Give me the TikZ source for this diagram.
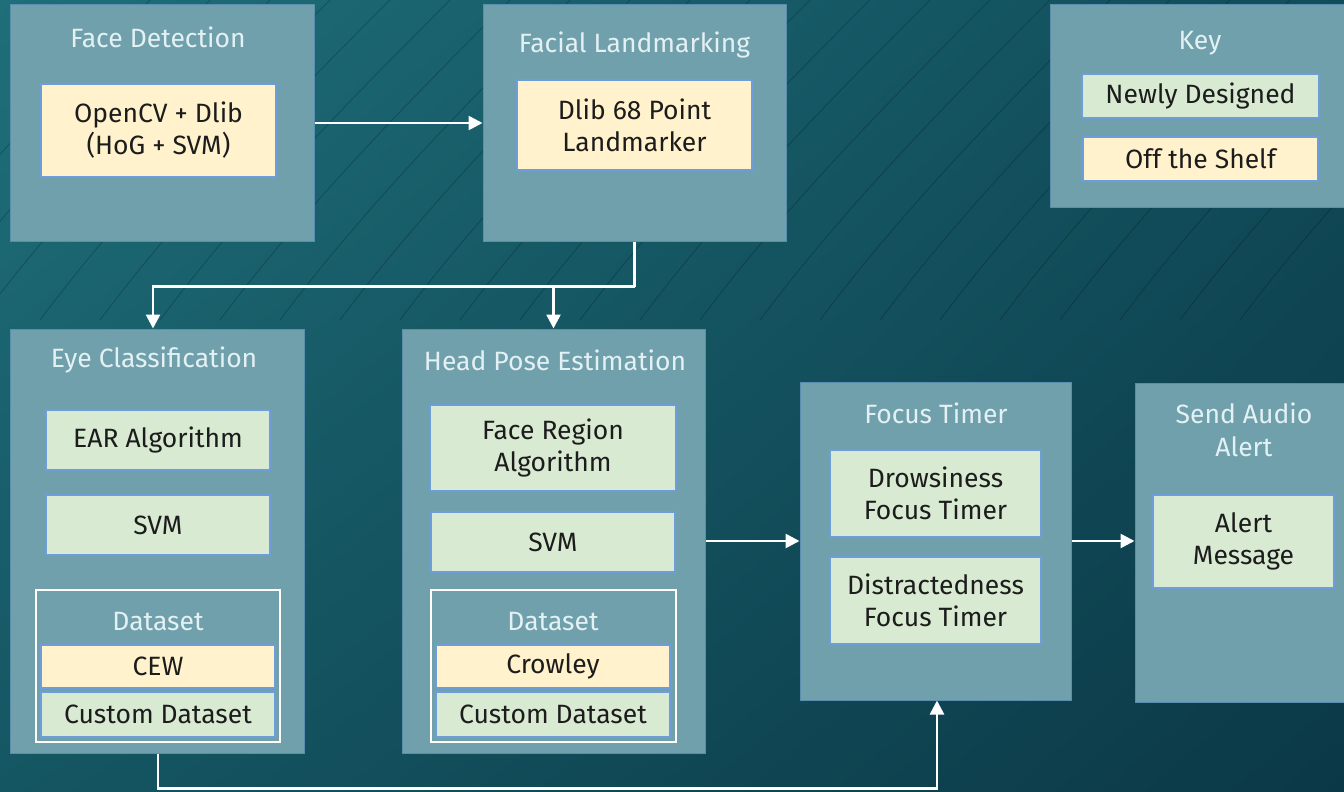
\documentclass[tikz,border=0pt]{standalone}
\usepackage{fontspec}
\setmainfont{Fira Sans}
\usetikzlibrary{arrows.meta,shadings}
\definecolor{outerfill}{HTML}{70A0AB}
\definecolor{outerdraw}{HTML}{5A8DAE}
\definecolor{newfill}{HTML}{D9EAD3}
\definecolor{offfill}{HTML}{FFF2CC}
\definecolor{innerdraw}{HTML}{6D9EDB}
\definecolor{titletext}{HTML}{E4F1F4}
\definecolor{innertext}{HTML}{1C1C1C}
\definecolor{bgUL}{HTML}{1E6F79}
\definecolor{bgUR}{HTML}{114C5A}
\definecolor{bgLL}{HTML}{155663}
\definecolor{bgLR}{HTML}{0B3846}
\tikzset{
  outerbox/.style={draw=outerdraw, line width=1pt, fill=outerfill, inner sep=0pt},
  framebox/.style={draw=white, line width=1.2pt, fill=outerfill, inner sep=0pt},
  newbox/.style={draw=innerdraw, line width=1.2pt, fill=newfill, text=innertext, align=center, inner sep=0pt, font=\fontsize{26.5}{32}\selectfont},
  offbox/.style={draw=innerdraw, line width=1.2pt, fill=offfill, text=innertext, align=center, inner sep=0pt, font=\fontsize{26.5}{32}\selectfont},
  boxtitle/.style={text=titletext, align=center, inner sep=0pt, font=\fontsize{26.5}{33}\selectfont},
  conn/.style={draw=white, line width=2.6pt},
  arr/.style={conn, -{Triangle[length=14pt, width=14pt]}},
  deco/.style={draw=black, opacity=0.2, line width=0.9pt}
}
\begin{document}
\begin{tikzpicture}[x=1pt, y=-1pt]
\useasboundingbox (0,0) rectangle (1344,792);
\shade[upper left=bgUL, upper right=bgUR, lower left=bgLL, lower right=bgLR] (0,0) rectangle (1344,792);
% background decoration
\begin{scope}
\clip (0,0) rectangle (1344,792);
\foreach \s in {0,60,...,1380} {
  \draw[deco] (\s-140,320) .. controls (\s-50,200) and (\s+60,90) .. (\s+160,-10);
}
\foreach \r in {150,200,...,650} {
  \draw[deco] (1200-\r,800) arc[start angle=180, end angle=110, radius=\r];
}
\end{scope}
% Face Detection
\node[outerbox, minimum width=304pt, minimum height=236pt] (fd) at (162,123) {};
\node[boxtitle] (fdT) at (158,37) {Face Detection};
\node[offbox, minimum width=235pt, minimum height=93pt] (fd1) at (158.5,130.5) {OpenCV + Dlib\\(HoG + SVM)};
% Facial Landmarking
\node[outerbox, minimum width=303pt, minimum height=236pt] (fl) at (634.5,123) {};
\node[boxtitle] (flT) at (634.5,45) {Facial Landmarking};
\node[offbox, minimum width=235pt, minimum height=90pt] (fl1) at (634.5,125) {Dlib 68 Point\\Landmarker};
% Key
\node[outerbox, minimum width=294pt, minimum height=202pt] (key) at (1197,106) {};
\node[boxtitle] (keyT) at (1200,43) {Key};
\node[newbox, minimum width=237pt, minimum height=44pt] (key1) at (1200.5,96) {Newly Designed};
\node[offbox, minimum width=235pt, minimum height=44pt] (key2) at (1200.5,159) {Off the Shelf};
% Eye Classification
\node[outerbox, minimum width=294pt, minimum height=424pt] (eye) at (157,541) {};
\node[boxtitle] (eyeT) at (154,360) {Eye Classification};
\node[newbox, minimum width=224pt, minimum height=60pt] (eye1) at (158,440) {EAR Algorithm};
\node[newbox, minimum width=224pt, minimum height=60pt] (eye2) at (158,525) {SVM};
\node[framebox, minimum width=244pt, minimum height=152pt] (eyeD) at (158,666) {};
\node[boxtitle] (eyeDT) at (158,622) {Dataset};
\node[offbox, minimum width=234pt, minimum height=43pt] (eye3) at (158,666.5) {CEW};
\node[newbox, minimum width=234pt, minimum height=45pt] (eye4) at (158,714.5) {Custom Dataset};
% Head Pose Estimation
\node[outerbox, minimum width=303pt, minimum height=424pt] (head) at (553.5,541) {};
\node[boxtitle] (headT) at (555,360) {Head Pose Estimation};
\node[newbox, minimum width=246pt, minimum height=86pt] (head1) at (553,448) {Face Region\\Algorithm};
\node[newbox, minimum width=244pt, minimum height=60pt] (head2) at (553,542) {SVM};
\node[framebox, minimum width=245pt, minimum height=152pt] (headD) at (553.5,666) {};
\node[boxtitle] (headDT) at (553,622) {Dataset};
\node[offbox, minimum width=234pt, minimum height=43pt] (head3) at (553,666.5) {Crowley};
\node[newbox, minimum width=234pt, minimum height=45pt] (head4) at (553,714.5) {Custom Dataset};
% Focus Timer
\node[outerbox, minimum width=271pt, minimum height=318pt] (ft) at (935.5,541) {};
\node[boxtitle] (ftT) at (936,413) {Focus Timer};
\node[newbox, minimum width=211pt, minimum height=87pt] (ft1) at (935.5,493.5) {Drowsiness\\Focus Timer};
\node[newbox, minimum width=211pt, minimum height=87pt] (ft2) at (935.5,600.5) {Distractedness\\Focus Timer};
% Send Audio Alert
\node[outerbox, minimum width=209pt, minimum height=319pt] (sa) at (1239.5,542.5) {};
\node[boxtitle] (saT) at (1244,430) {Send Audio\\Alert};
\node[newbox, minimum width=181pt, minimum height=93pt] (sa1) at (1243.5,541.5) {Alert\\Message};
% Connectors
\draw[arr] (fd.east) -- (fl.west);
\draw[conn] (fl.south) -- ++(0,45) coordinate (split);
\draw[arr] (split) -| ([xshift=-4pt]eye.north);
\draw[arr] (split) -| (head.north);
\draw[arr] (head.east) -- (ft.west);
\draw[arr] (ft.east) -- (ft.east -| sa.west);
\draw[arr] ([xshift=1pt]eye.south) -- ++(0,35) coordinate (bottom) -| ([xshift=1.5pt]ft.south);
\end{tikzpicture}
\end{document}
